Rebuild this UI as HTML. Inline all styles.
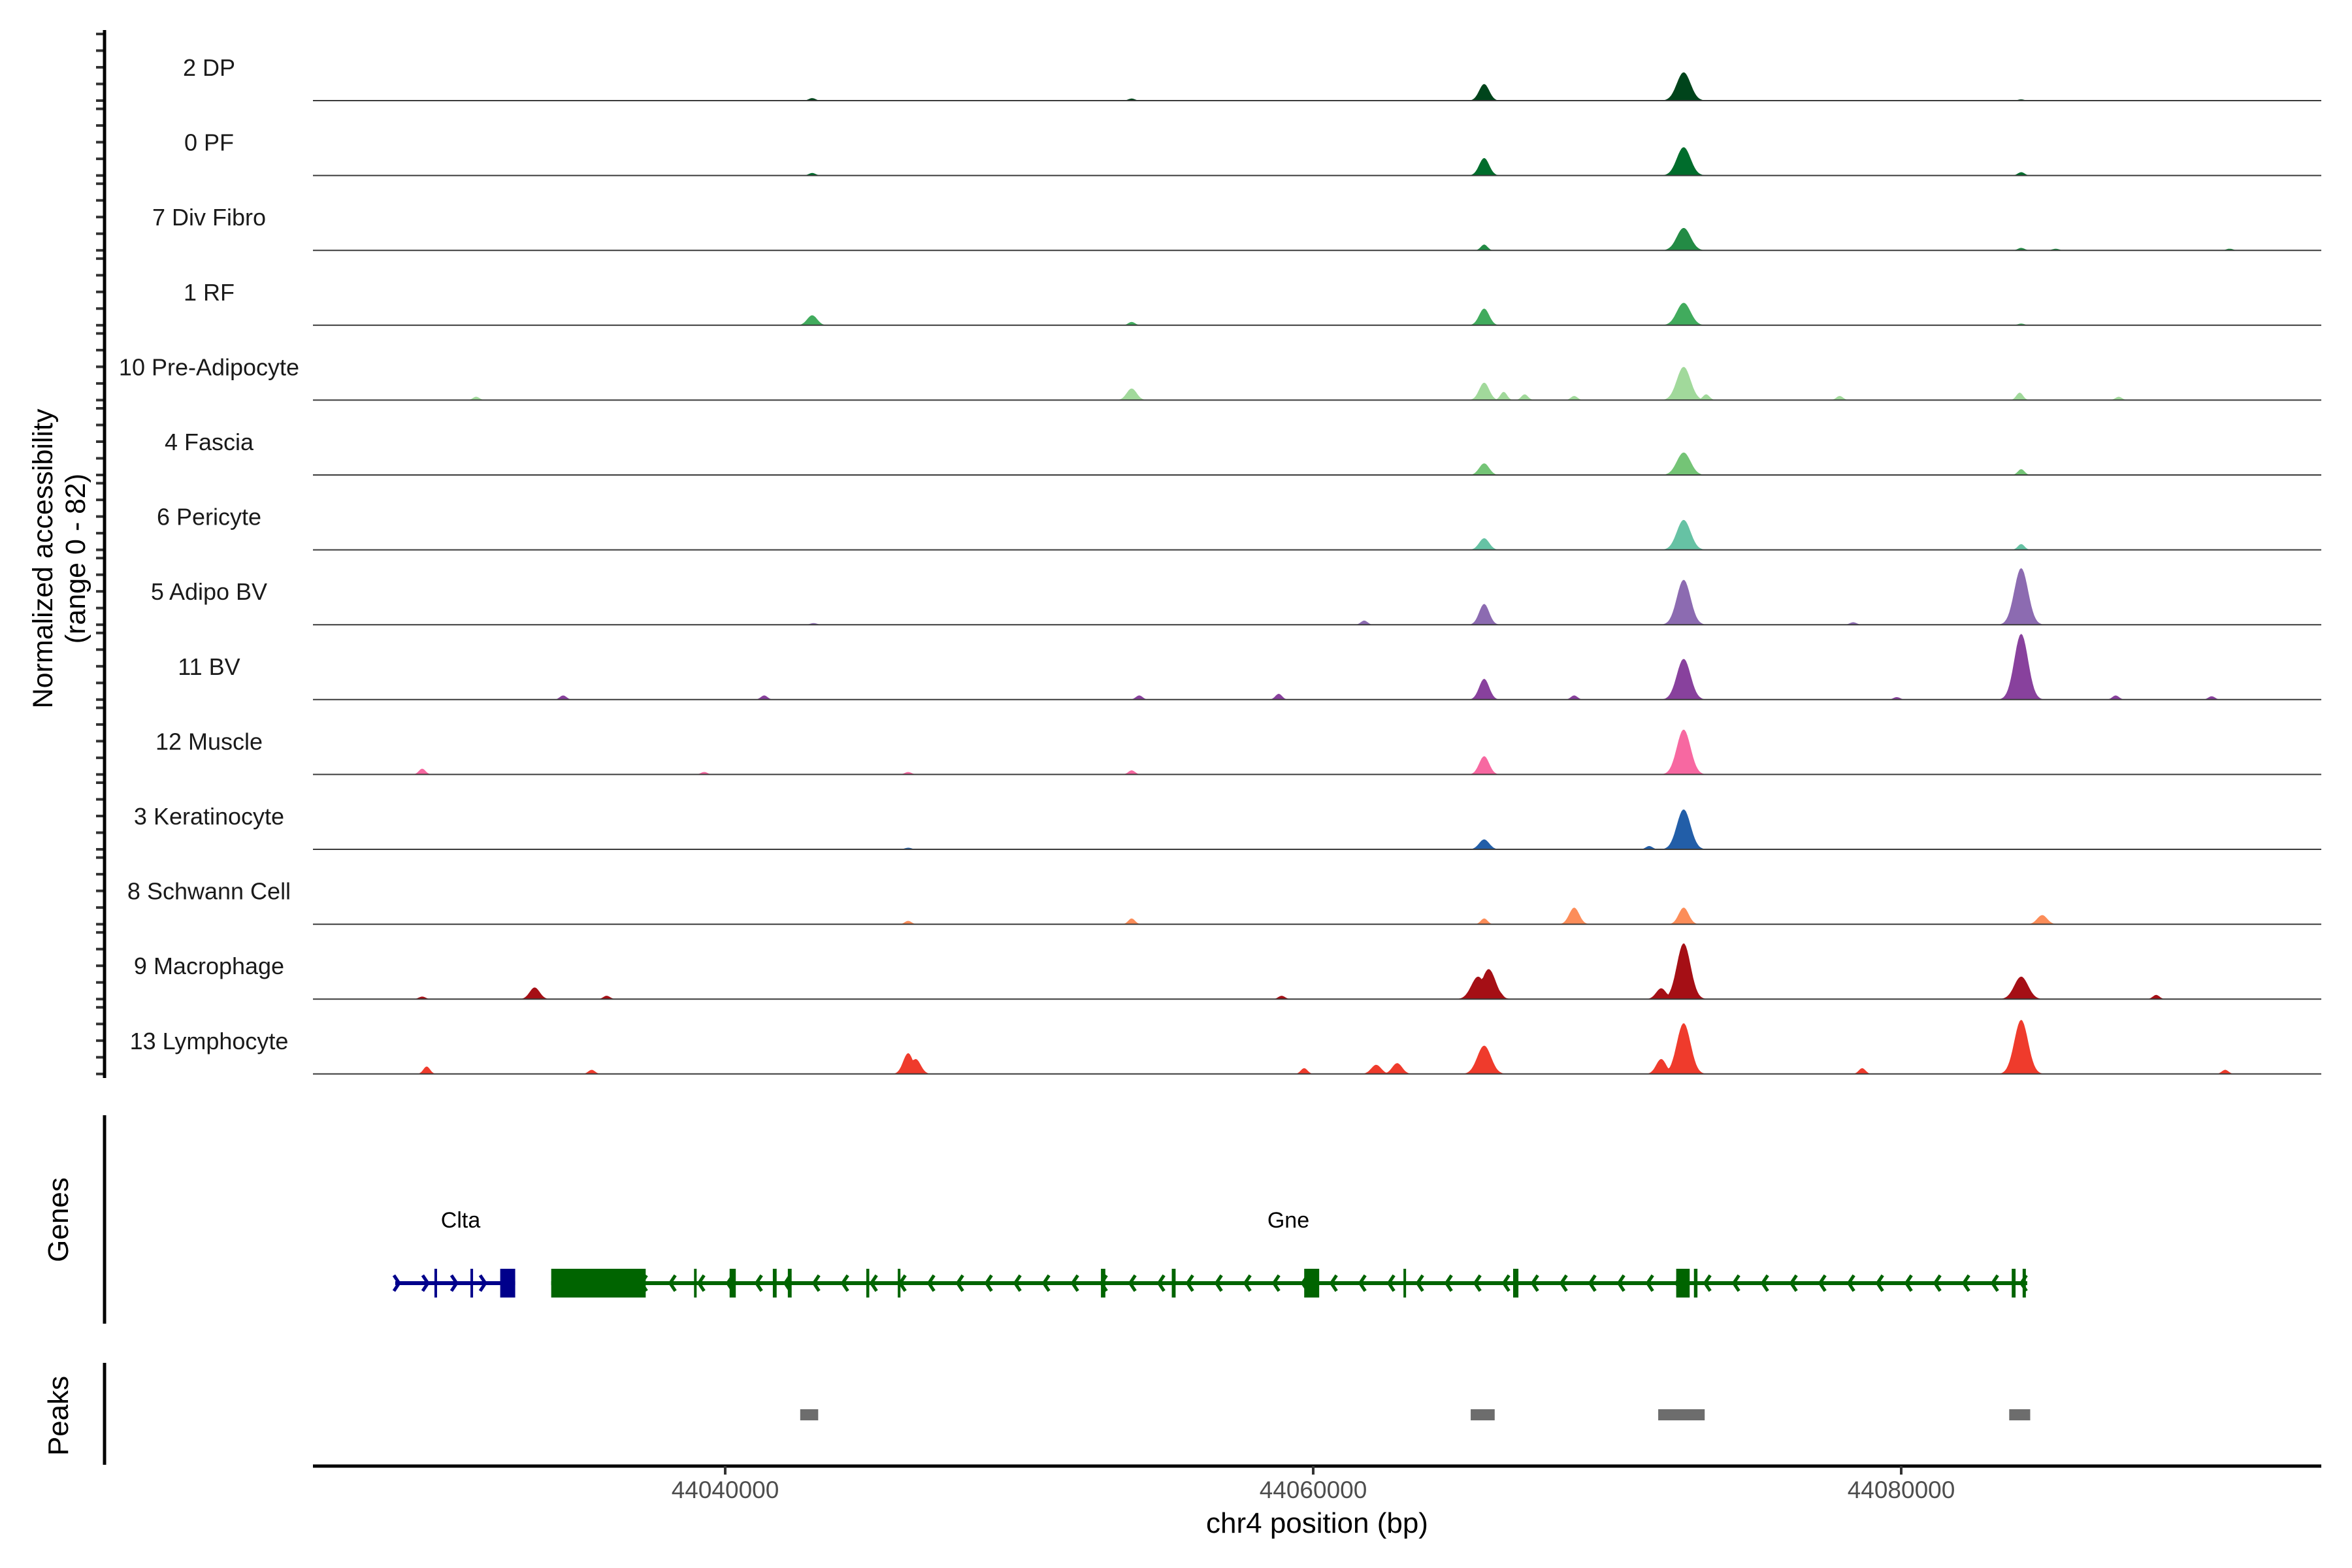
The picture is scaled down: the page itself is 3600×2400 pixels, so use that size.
<!DOCTYPE html>
<html><head><meta charset="utf-8">
<style>
html,body{margin:0;padding:0;background:#fff;}
svg{display:block;font-family:"Liberation Sans",Arial,sans-serif;}
</style></head>
<body>
<svg id="chart" xmlns="http://www.w3.org/2000/svg" width="3600" height="2400" viewBox="0 0 3600 2400">
<rect x="0" y="0" width="3600" height="2400" fill="#fff"/>
<g id="tracks"></g>
<g id="genes"></g>
<g id="peaks"></g>
<g id="axes"></g>
</svg>
<script>
// ---- data ----
const trackNames = ["2 DP","0 PF","7 Div Fibro","1 RF","10 Pre-Adipocyte","4 Fascia","6 Pericyte","5 Adipo BV","11 BV","12 Muscle","3 Keratinocyte","8 Schwann Cell","9 Macrophage","13 Lymphocyte"];
const trackColors = ["#00441b","#006d2c","#238b45","#41ab5d","#a1d99b","#74c476","#66c2a4","#8c6bb1","#88419d","#f768a1","#225ea8","#fc8d59","#a50f15","#ef3b2c"];
const pos0 = [44042959,44053826,44065816,44072602,44084082];
const ht0  = [3,2.5,20,34,1.5];
const pos1 = [44042959,44065816,44072602,44084082];
const ht1  = [3,21,34,4];
const pos2 = [44065816,44072602,44084082,44085255,44091173];
const ht2  = [7,27,3,2,2];
const pos3 = [44042959,44053826,44065816,44072602,44084082];
const ht3  = [12,4,20,27,2];
const pos4 = [44031531,44053826,44065816,44066480,44067194,44068878,44072602,44073367,44077908,44084031,44087398];
const ht4  = [4,14,21,10,7,5,40,7,5,9,4];
const pos5 = [44065816,44072602,44084082];
const ht5  = [14,27,7];
const pos6 = [44065816,44072602,44084082];
const ht6  = [14,36,7];
const pos7 = [44043010,44061735,44065816,44072602,44078367,44084082];
const ht7  = [2,5,25,54,3,68];
const pos8 = [44034490,44041327,44054082,44058827,44065816,44068878,44072602,44079847,44084082,44087296,44090561];
const ht8  = [5,5,5,7,25,5,49,3,79,5,4];
const pos9 = [44029694,44039286,44046224,44053826,44065816,44072602];
const ht9  = [7,3,3,5,22,54];
const pos10 = [44046224,44065816,44071429,44072602];
const ht10  = [2,12,4,48];
const pos11 = [44046224,44053826,44065816,44068878,44072602,44084796];
const ht11  = [4,7,7,20,20,11];
const pos12 = [44029694,44033520,44035969,44058929,44065612,44065969,44066327,44071837,44072602,44084082,44088673];
const ht12  = [3,14,4,4,27,36,9,13,67,27,5];
const pos13 = [44029847,44035459,44046224,44046480,44059694,44062143,44062857,44065816,44071837,44072602,44084082,44078673,44091020];
const ht13  = [9,5,25,18,7,11,13,34,18,61,65,7,5];
const tickLabels = ["44040000","44060000","44080000"];
const tickValues = [44040000,44060000,44080000];
const yTickUnits = [0,20,40,60,80];
const peakStarts = [44042551,44065357,44071735,44083674];
const peakEnds   = [44043163,44066173,44073316,44084388];
const cltaRange = [44028776,44032857];
const cltaExonStarts = [44030110,44031335,44032347];
const cltaExonEnds   = [44030196,44031421,44032857];
const gneRange = [44034082,44084286];
const gneExonStarts = [44034082,44038940,44040150,44041620,44042130,44044800,44045870,44052780,44055190,44059694,44063070,44066800,44072347,44072950,44083760,44084130];
const gneExonEnds   = [44037296,44039020,44040360,44041750,44042260,44044900,44045960,44052930,44055320,44060204,44063150,44066980,44072806,44073070,44083890,44084240];

const posArr=[pos0,pos1,pos2,pos3,pos4,pos5,pos6,pos7,pos8,pos9,pos10,pos11,pos12,pos13];
const htArr=[ht0,ht1,ht2,ht3,ht4,ht5,ht6,ht7,ht8,ht9,ht10,ht11,ht12,ht13];

// ---- scales ----
const NS="http://www.w3.org/2000/svg";
const X0=479, X1=3553;
function xs(bp){return 1110+(bp-44040000)*900/20000;}
const bpMin=44040000+(X0-1110)*20000/900, bpMax=44040000+(X1-1110)*20000/900;
const base0=154, trackStep=114.6, unitPx=1.275;
function baseY(i){return base0+i*trackStep;}
function mk(tag,attrs,parent){const e=document.createElementNS(NS,tag);for(const k in attrs)e.setAttribute(k,attrs[k]);parent.appendChild(e);return e;}

const gT=document.getElementById('tracks');
trackNames.forEach((name,i)=>{
  const by=baseY(i);
  const g=mk('g',{},gT);
  
  
  const P=posArr[i],H=htArr[i];
  let pts=[];
  const step=50;
  for(let bp=bpMin;bp<=bpMax;bp+=step){
    let v=0;
    for(let k=0;k<P.length;k++){
      const s=H[k]>25?330:(H[k]>10?240:160);
      const d=(bp-P[k])/s;
      if(Math.abs(d)<4)v=Math.max(v,H[k]*Math.exp(-d*d));
    }
    pts.push([xs(bp),by-v*unitPx]);
  }
  let d='M'+xs(bpMin)+','+by;
  pts.forEach(p=>{d+=' L'+p[0].toFixed(1)+','+p[1].toFixed(1);});
  d+=' L'+xs(bpMax)+','+by+' Z';
  const area=mk('path',{d:d,fill:trackColors[i],stroke:'none'},g);
  
  
  const ln=mk('line',{x1:X0,x2:X1,y1:by,y2:by,stroke:'#3a3a3a','stroke-width':2},g);
  
  
  const t=mk('text',{x:320,y:by-38,'font-size':36,'text-anchor':'middle',fill:'#1a1a1a'},g);
  t.textContent=name;
  
  
  yTickUnits.forEach(u=>{
    const tk=mk('line',{x1:147,x2:160,y1:by-u*unitPx,y2:by-u*unitPx,stroke:'#333','stroke-width':4},g);
    
    
  });
});

const gA=document.getElementById('axes');
function axisLine(x1,y1,x2,y2,w,name){const l=mk('line',{x1,y1,x2,y2,stroke:'#000','stroke-width':w},gA);return l;}
axisLine(160,46,160,1650,5,'y-axis-line');
axisLine(160,1707,160,2026,5,'genes-axis-line');
axisLine(160,2086,160,2242,5,'peaks-axis-line');
axisLine(X0,2244,X1,2244,5,'x-axis-line');
tickValues.forEach((v,k)=>{
  const tk=mk('line',{x1:xs(v),x2:xs(v),y1:2244,y2:2257,stroke:'#333','stroke-width':4},gA);
  
  
  const tl=mk('text',{x:xs(v),y:2293,'font-size':37,'text-anchor':'middle',fill:'#4d4d4d'},gA);
  tl.textContent=tickLabels[k];
  
  
});
let tt=mk('text',{x:2016,y:2346,'font-size':44,'text-anchor':'middle',fill:'#000'},gA);
tt.textContent='chr4 position (bp)';


let yt=mk('text',{transform:'translate(80,855) rotate(-90)','font-size':43,'text-anchor':'middle',fill:'#000'},gA);
yt.textContent='Normalized accessibility';


let yt2=mk('text',{transform:'translate(130,855) rotate(-90)','font-size':43,'text-anchor':'middle',fill:'#000'},gA);
yt2.textContent='(range 0 - 82)';


let gl=mk('text',{transform:'translate(104,1867) rotate(-90)','font-size':44,'text-anchor':'middle',fill:'#000'},gA);
gl.textContent='Genes';


let pl=mk('text',{transform:'translate(104,2167) rotate(-90)','font-size':44,'text-anchor':'middle',fill:'#000'},gA);
pl.textContent='Peaks';



// ---- genes ----
const gG=document.getElementById('genes');
const GY=1964;
function drawGene(range,starts,ends,color,dir,label,labelX,name){
  const g=mk('g',{},gG);
  
  
  mk('line',{x1:xs(range[0]),x2:xs(range[1]),y1:GY,y2:GY,stroke:color,'stroke-width':6},g);
  for(let x=xs(range[0])+6;x<xs(range[1])-6;x+=44){
    const a=dir>0?`M${x-8},${GY-12} L${x},${GY} L${x-8},${GY+12}`:`M${x+8},${GY-12} L${x},${GY} L${x+8},${GY+12}`;
    mk('path',{d:a,stroke:color,'stroke-width':5,fill:'none'},g);
  }
  starts.forEach((s,k)=>{
    const w=Math.max(4,xs(ends[k])-xs(s));
    const r=mk('rect',{x:xs(s),y:GY-22,width:w,height:44,fill:color},g);
    
    
  });
  const t=mk('text',{x:labelX,y:1879,'font-size':34,'text-anchor':'middle',fill:'#000'},g);
  t.textContent=label;
  
  
}
drawGene(cltaRange,cltaExonStarts,cltaExonEnds,'#00008b',1,'Clta',705,'gene-clta');
drawGene(gneRange,gneExonStarts,gneExonEnds,'#006400',-1,'Gne',1972,'gene-gne');

// ---- peaks ----
const gP=document.getElementById('peaks');
peakStarts.forEach((s,k)=>{
  const r=mk('rect',{x:xs(s),y:2157,width:xs(peakEnds[k])-xs(s),height:17,fill:'#6d6d6d'},gP);
  
  
});
</script>
</body></html>
